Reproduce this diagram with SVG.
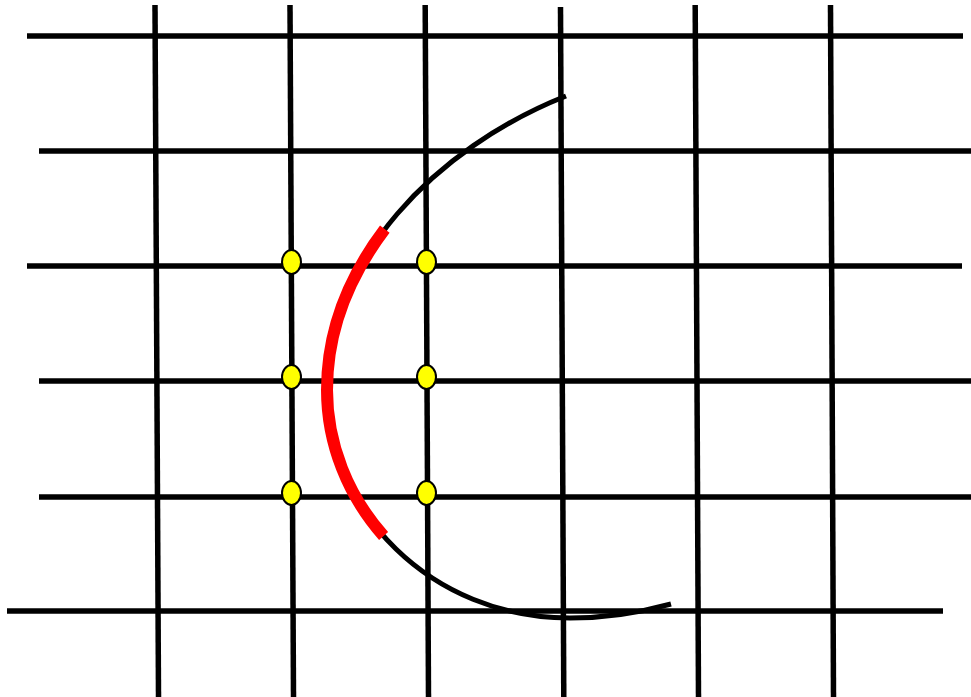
<svg xmlns="http://www.w3.org/2000/svg" width="971" height="697" viewBox="0 0 971 697">
<style>
.g{stroke:#000;stroke-width:5.5;fill:none}
.arc{stroke:#000;stroke-width:5;fill:none}
.red{stroke:#ff0000;stroke-width:12;fill:none;stroke-linecap:butt}
.pt{fill:#ffff00;stroke:#000;stroke-width:2}
</style>
<rect width="971" height="697" fill="#fff"/>
<g id="grid">
<line class="g" x1="27" y1="36" x2="963" y2="36"/>
<line class="g" x1="39" y1="151" x2="971" y2="151"/>
<line class="g" x1="27" y1="266" x2="962" y2="266"/>
<line class="g" x1="39" y1="381" x2="971" y2="381"/>
<line class="g" x1="39" y1="497" x2="971" y2="497"/>
<line class="g" x1="7" y1="611" x2="943" y2="611"/>
<line class="g" x1="155" y1="5" x2="158.5" y2="697"/>
<line class="g" x1="290" y1="5" x2="293.5" y2="697"/>
<line class="g" x1="425.2" y1="5" x2="428.5" y2="697"/>
<line class="g" x1="560.5" y1="7" x2="563.8" y2="697"/>
<line class="g" x1="695.2" y1="5" x2="698.5" y2="697"/>
<line class="g" x1="830.5" y1="5" x2="833.5" y2="697"/>
</g>
<g id="connectors">
<path class="arc" d="M566,96 C435,148 327,260 327,390 C327,510 430,618 570,618 Q620,618 671,604"/>
<path class="red" d="M384.8,229.2 C348.9,276.6 327,331.5 327,390 C327,444 347.9,495.6 383.6,536"/>
</g>
<g id="points">
<ellipse class="pt" cx="291.5" cy="262" rx="9.5" ry="12"/>
<ellipse class="pt" cx="426.5" cy="262" rx="9.5" ry="12"/>
<ellipse class="pt" cx="291.5" cy="377" rx="9.5" ry="12"/>
<ellipse class="pt" cx="426.5" cy="377" rx="9.5" ry="12"/>
<ellipse class="pt" cx="291.5" cy="493" rx="9.5" ry="12"/>
<ellipse class="pt" cx="426.5" cy="493" rx="9.5" ry="12"/>
</g>
</svg>
